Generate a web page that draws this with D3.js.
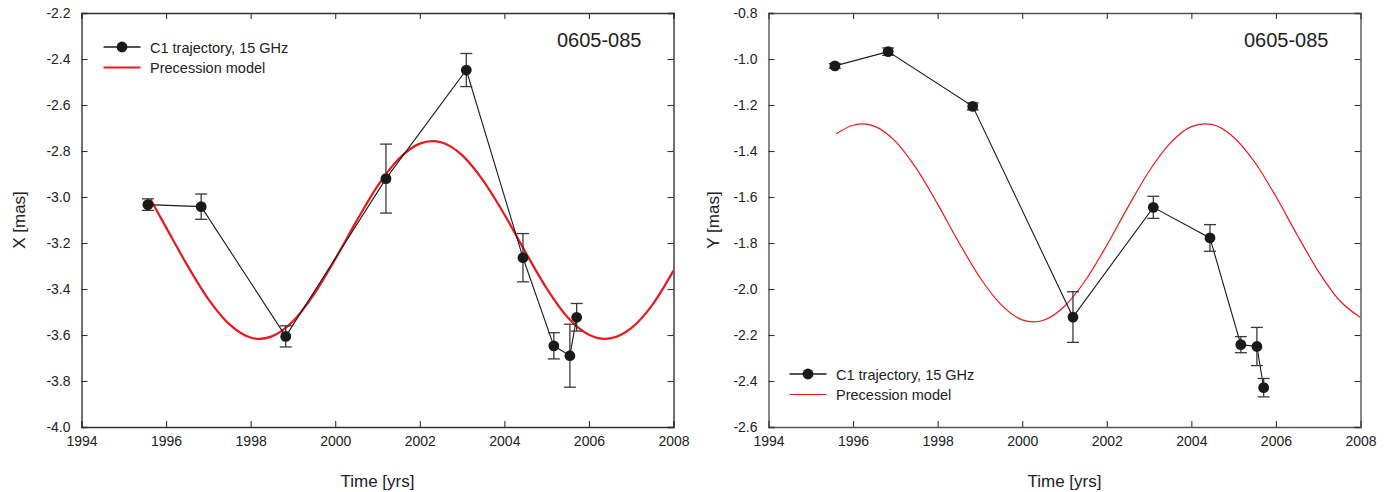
<!DOCTYPE html>
<html>
<head>
<meta charset="utf-8">
<script src="https://cdn.jsdelivr.net/npm/d3@7"></script>
<style>
  body { margin: 0; background: #fff; }
  svg { font-family: "Liberation Sans", Arial, sans-serif; }
</style>
</head>
<body>
<svg id="chart" width="1392" height="492"></svg>
<script>
// epochs of component C1 (yrs)
const epochs = [1995.57, 1996.83, 1998.83, 2001.20, 2003.10, 2004.44, 2005.17, 2005.55, 2005.71];

// X offset and errors (mas)
const xValues = [-3.033, -3.042, -3.606, -2.920, -2.448, -3.264, -3.647, -3.690, -3.523];
const xErrors = [0.025, 0.055, 0.046, 0.150, 0.072, 0.105, 0.057, 0.137, 0.060];

// Y offset and errors (mas)
const yValues = [-1.030, -0.968, -1.206, -2.122, -1.645, -1.778, -2.242, -2.250, -2.429];
const yErrors = [0.010, 0.016, 0.015, 0.110, 0.048, 0.058, 0.035, 0.083, 0.040];

// precession model
const modelTimeX = [1995.63, 1996, 1996.5, 1997, 1997.5, 1998, 1998.21, 1998.5, 1999, 1999.5, 2000, 2000.5,
  2001, 2001.5, 2002, 2002.3, 2002.5, 2003, 2003.5, 2004, 2004.5, 2005, 2005.5, 2006, 2006.38, 2006.5, 2007, 2007.5, 2008];
const modelX = [-3.01, -3.132, -3.296, -3.444, -3.554, -3.611, -3.617, -3.606, -3.540, -3.422, -3.270, -3.106,
  -2.953, -2.835, -2.768, -2.757, -2.762, -2.818, -2.929, -3.076, -3.240, -3.397, -3.524, -3.599, -3.617, -3.615, -3.570, -3.469, -3.320];

const modelTimeY = [1995.6, 1996, 1996.22, 1996.5, 1997, 1997.5, 1998, 1998.5, 1999, 1999.5, 2000, 2000.27, 2000.5,
  2001, 2001.5, 2002, 2002.5, 2003, 2003.5, 2004, 2004.32, 2004.5, 2005, 2005.5, 2006, 2006.5, 2007, 2007.5, 2008];
const modelY = [-1.325, -1.288, -1.282, -1.292, -1.358, -1.477, -1.631, -1.797, -1.950, -2.068, -2.134, -2.143, -2.136,
  -2.075, -1.961, -1.810, -1.644, -1.488, -1.366, -1.294, -1.282, -1.285, -1.340, -1.449, -1.598, -1.764, -1.922, -2.049, -2.124];

const yearTicks = [1994, 1996, 1998, 2000, 2002, 2004, 2006, 2008];
const xTicks = [-2.2, -2.4, -2.6, -2.8, -3.0, -3.2, -3.4, -3.6, -3.8, -4.0];
const yTicks = [-0.8, -1.0, -1.2, -1.4, -1.6, -1.8, -2.0, -2.2, -2.4, -2.6];

const sourceName = "0605-085";
const legendLabels = ["C1 trajectory, 15 GHz", "Precession model"];

const svg = d3.select("#chart");
const red = "#e8191f";

function drawPanel(p) {
  const w = 592, h = 414;
  const g = svg.append("g").attr("transform", `translate(${p.left},13)`);

  const x = d3.scaleLinear().domain([1994, 2008]).range([0, w]);
  const y = d3.scaleLinear().domain(p.domain).range([0, h]);

  const fmt = d3.format(".1f");
  const tickLen = 6;

  // inward ticks on all four sides
  const axes = [
    d3.axisBottom(x).tickValues(yearTicks).tickSize(-tickLen).tickPadding(9).tickFormat(d3.format("d")),
    d3.axisTop(x).tickValues(yearTicks).tickSize(-tickLen).tickFormat(""),
    d3.axisLeft(y).tickValues(p.ticks).tickSize(-tickLen).tickPadding(11).tickFormat(d => fmt(d).replace("−", "-")),
    d3.axisRight(y).tickValues(p.ticks).tickSize(-tickLen).tickFormat("")
  ];
  const trans = [`translate(0,${h})`, "translate(0,0)", "translate(0,0)", `translate(${w},0)`];
  axes.forEach((ax, i) => {
    const a = g.append("g").attr("transform", trans[i]).call(ax);
    a.select(".domain").attr("stroke", p.axisColor).attr("stroke-width", 1.4);
    a.selectAll(".tick line").attr("stroke", "#333").attr("stroke-width", 1.1);
    a.selectAll(".tick text").attr("fill", "#222").style("font-size", "14px");
  });

  // model curve
  const clipId = "clip" + p.left;
  g.append("clipPath").attr("id", clipId).append("rect").attr("width", w).attr("height", h);
  const modelLine = d3.line()
    .x(d => x(d[0])).y(d => y(d[1]))
    .curve(d3.curveMonotoneX);
  g.append("path")
    .datum(d3.zip(p.modelT, p.modelV))
    .attr("clip-path", `url(#${clipId})`)
    .attr("fill", "none")
    .attr("stroke", red)
    .attr("stroke-width", p.modelWidth)
    .attr("d", modelLine);

  // trajectory
  const pts = epochs.map((t, i) => ({ t, v: p.values[i], e: p.errors[i] }));
  g.append("path")
    .datum(pts)
    .attr("fill", "none")
    .attr("stroke", "#1a1a1a")
    .attr("stroke-width", 1.1)
    .attr("d", d3.line().x(d => x(d.t)).y(d => y(d.v)));

  const err = g.append("g").attr("stroke", "#3a3a3a").attr("stroke-width", 1.3);
  err.selectAll("line.v").data(pts).join("line")
    .attr("x1", d => x(d.t)).attr("x2", d => x(d.t))
    .attr("y1", d => y(d.v - d.e)).attr("y2", d => y(d.v + d.e));
  err.selectAll("line.top").data(pts).join("line")
    .attr("x1", d => x(d.t) - 6).attr("x2", d => x(d.t) + 6)
    .attr("y1", d => y(d.v - d.e)).attr("y2", d => y(d.v - d.e));
  err.selectAll("line.bot").data(pts).join("line")
    .attr("x1", d => x(d.t) - 6).attr("x2", d => x(d.t) + 6)
    .attr("y1", d => y(d.v + d.e)).attr("y2", d => y(d.v + d.e));

  g.append("g").selectAll("circle").data(pts).join("circle")
    .attr("cx", d => x(d.t)).attr("cy", d => y(d.v))
    .attr("r", 5.4).attr("fill", "#1a1a1a");

  // legend
  const lg = g.append("g").attr("transform", `translate(${p.legend[0]},${p.legend[1]})`);
  lg.append("line").attr("x1", 0).attr("x2", 37).attr("stroke", "#1a1a1a").attr("stroke-width", 1.3);
  lg.append("circle").attr("cx", 18.5).attr("r", 5.4).attr("fill", "#1a1a1a");
  lg.append("line").attr("x1", 0).attr("x2", 37).attr("y1", 20.5).attr("y2", 20.5)
    .attr("stroke", red).attr("stroke-width", p.modelWidth);
  lg.selectAll("text").data(legendLabels).join("text")
    .attr("x", 46.5).attr("y", (d, i) => 5.5 + i * 20.5)
    .attr("fill", "#222").style("font-size", "14.5px").text(d => d);

  // source name
  g.append("text").attr("x", w - 32).attr("y", 34)
    .attr("text-anchor", "end").attr("fill", "#222")
    .style("font-size", "20px").text(sourceName);

  // axis titles
  g.append("text").attr("x", w / 2).attr("y", h + 60)
    .attr("text-anchor", "middle").attr("fill", "#222")
    .style("font-size", "17px").text("Time [yrs]");
  g.append("text")
    .attr("transform", `translate(${p.titleX},${h / 2}) rotate(-90)`)
    .attr("text-anchor", "middle").attr("fill", "#222")
    .style("font-size", "17px").text(p.title);
}

drawPanel({
  left: 81.5, domain: [-2.2, -4.0], ticks: xTicks,
  values: xValues, errors: xErrors,
  modelT: modelTimeX, modelV: modelX, modelWidth: 2.2,
  legend: [22, 34], title: "X [mas]", titleX: -57, axisColor: "#333"
});

drawPanel({
  left: 768.5, domain: [-0.8, -2.6], ticks: yTicks,
  values: yValues, errors: yErrors,
  modelT: modelTimeY, modelV: modelY, modelWidth: 1.2,
  legend: [21, 361], title: "Y [mas]", titleX: -50, axisColor: "#555"
});
</script>
</body>
</html>
